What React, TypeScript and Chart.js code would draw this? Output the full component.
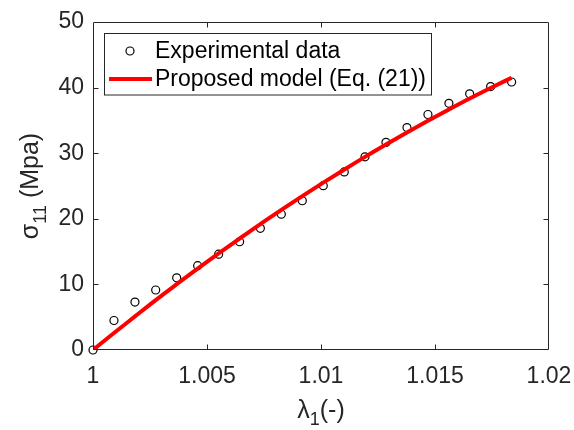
import React, { useEffect, useRef } from "react";
import { Chart, registerables } from "chart.js";

Chart.register(...registerables);

// ---- data ----
const lambdaValues = [
  1.0, 1.00092, 1.00184, 1.00275, 1.00367, 1.00459, 1.00551, 1.00643, 1.00734,
  1.00826, 1.00918, 1.0101, 1.01102, 1.01193, 1.01285, 1.01377, 1.01469,
  1.01561, 1.01652, 1.01744, 1.01836,
];
const experimentalStress = [
  0, 4.5, 7.3, 9.15, 11.0, 12.85, 14.6, 16.5, 18.55, 20.7, 22.75, 25.05, 27.15,
  29.45, 31.65, 33.9, 35.9, 37.6, 39.05, 40.15, 40.85,
];
const modelStress = [
  0, 2.59, 5.12, 7.61, 10.03, 12.41, 14.72, 16.99, 19.2, 21.35, 23.46, 25.51,
  27.5, 29.44, 31.33, 33.16, 34.94, 36.66, 38.33, 39.94, 41.51,
];
const xTicks = [1, 1.005, 1.01, 1.015, 1.02];
const yTicks = [0, 10, 20, 30, 40, 50];
const legendLabels = ["Experimental data", "Proposed model (Eq. (21))"];

const AXIS_COLOR = "#262626";
const FONT = "'Liberation Sans', Arial, Helvetica, sans-serif";

type Part = { text: string; size: number; dy: number };

function drawParts(ctx: CanvasRenderingContext2D, parts: Part[], cx: number, y: number) {
  let total = 0;
  const widths: number[] = [];
  for (const p of parts) {
    ctx.font = `${p.size}px ${FONT}`;
    const w = ctx.measureText(p.text).width;
    widths.push(w);
    total += w;
  }
  let x = cx - total / 2;
  ctx.textAlign = "left";
  ctx.textBaseline = "alphabetic";
  parts.forEach((p, i) => {
    ctx.font = `${p.size}px ${FONT}`;
    ctx.fillText(p.text, x, y + p.dy);
    x += widths[i];
  });
}

const decorPlugin = {
  id: "decor",
  afterDraw(chart: any) {
    const ctx: CanvasRenderingContext2D = chart.ctx;
    const area = chart.chartArea;
    const xs = chart.scales.x;
    const ys = chart.scales.y;
    const L = Math.round(area.left) + 0.5;
    const R = Math.round(area.right) - 0.5;
    const T = Math.round(area.top) + 0.5;
    const B = Math.round(area.bottom) - 0.5;
    ctx.save();
    ctx.strokeStyle = AXIS_COLOR;
    ctx.lineWidth = 1;
    ctx.beginPath();
    ctx.rect(L, T, R - L, B - T);
    const tl = 5;
    for (const v of xTicks) {
      const px = Math.round(xs.getPixelForValue(v)) + 0.5;
      if (px <= L + 1 || px >= R - 1) continue;
      ctx.moveTo(px, B);
      ctx.lineTo(px, B - tl);
      ctx.moveTo(px, T);
      ctx.lineTo(px, T + tl);
    }
    for (const v of yTicks) {
      const py = Math.round(ys.getPixelForValue(v)) + 0.5;
      if (py <= T + 1 || py >= B - 1) continue;
      ctx.moveTo(L, py);
      ctx.lineTo(L + tl, py);
      ctx.moveTo(R, py);
      ctx.lineTo(R - tl, py);
    }
    ctx.stroke();

    // axis titles
    ctx.fillStyle = AXIS_COLOR;
    drawParts(
      ctx,
      [
        { text: "λ", size: 25, dy: 0 },
        { text: "1", size: 18, dy: 7 },
        { text: "(-)", size: 25, dy: 0 },
      ],
      (area.left + area.right) / 2,
      418
    );
    ctx.save();
    ctx.translate(38, (area.top + area.bottom) / 2);
    ctx.rotate(-Math.PI / 2);
    drawParts(
      ctx,
      [
        { text: "σ", size: 25, dy: 0 },
        { text: "11", size: 18, dy: 8 },
        { text: " (Mpa)", size: 25, dy: 0 },
      ],
      0,
      0
    );
    ctx.restore();

    // legend
    const bx = 104.5, by = 33.5, bw = 327, bh = 61.5;
    ctx.fillStyle = "#ffffff";
    ctx.fillRect(bx, by, bw, bh);
    ctx.strokeStyle = AXIS_COLOR;
    ctx.lineWidth = 1;
    ctx.strokeRect(bx, by, bw, bh);

    ctx.strokeStyle = "#000000";
    ctx.lineWidth = 1.2;
    ctx.beginPath();
    ctx.arc(130, 51, 4, 0, Math.PI * 2);
    ctx.stroke();

    ctx.strokeStyle = "#ff0000";
    ctx.lineWidth = 4;
    ctx.beginPath();
    ctx.moveTo(109, 79);
    ctx.lineTo(152, 79);
    ctx.stroke();

    ctx.fillStyle = "#000000";
    ctx.font = `23px ${FONT}`;
    ctx.textAlign = "left";
    ctx.textBaseline = "alphabetic";
    ctx.fillText(legendLabels[0], 155, 58.3);
    ctx.fillText(legendLabels[1], 155, 86);
    ctx.restore();
  },
};

export default function App() {
  const ref = useRef<HTMLCanvasElement | null>(null);
  useEffect(() => {
    if (!ref.current) return;
    const chart = new Chart(ref.current, {
      type: "scatter",
      data: {
        datasets: [
          {
            type: "line",
            label: legendLabels[1],
            data: lambdaValues.map((x, i) => ({ x, y: modelStress[i] })),
            borderColor: "#ff0000",
            borderWidth: 4,
            pointRadius: 0,
            fill: false,
            cubicInterpolationMode: "monotone",
            order: 0,
          } as any,
          {
            type: "scatter",
            label: legendLabels[0],
            data: lambdaValues.map((x, i) => ({ x, y: experimentalStress[i] })),
            borderColor: "#000000",
            backgroundColor: "rgba(0,0,0,0)",
            borderWidth: 1.2,
            pointRadius: 4,
            clip: false,
            order: 1,
          } as any,
        ],
      },
      options: {
        animation: false,
        responsive: false,
        layout: { padding: { left: 0, right: 25, top: 22, bottom: 0 } },
        plugins: { legend: { display: false }, tooltip: { enabled: false } },
        scales: {
          x: {
            type: "linear",
            min: 1,
            max: 1.02,
            grid: { display: false, drawTicks: false },
            border: { display: false },
            afterBuildTicks: (s: any) => {
              s.ticks = xTicks.map((v) => ({ value: v }));
            },
            afterFit: (s: any) => {
              s.height = 80;
              s.paddingLeft = 0;
              s.paddingRight = 0;
            },
            ticks: {
              padding: 13,
              color: AXIS_COLOR,
              font: { family: FONT, size: 23 },
              maxRotation: 0,
              autoSkip: false,
              callback: (v: any) => String(Number(Number(v).toFixed(3))),
            },
          },
          y: {
            type: "linear",
            min: 0,
            max: 50,
            grid: { display: false, drawTicks: false },
            border: { display: false },
            afterBuildTicks: (s: any) => {
              s.ticks = yTicks.map((v) => ({ value: v }));
            },
            afterFit: (s: any) => {
              s.width = 93;
              s.paddingTop = 0;
              s.paddingBottom = 0;
            },
            ticks: {
              padding: 9,
              color: AXIS_COLOR,
              font: { family: FONT, size: 23 },
              callback: (v: any) => String(v),
            },
          },
        },
      },
      plugins: [decorPlugin],
    });
    return () => chart.destroy();
  }, []);
  return (
    <div style={{ position: "absolute", left: 0, top: 0, width: 574, height: 430, background: "#fff" }}>
      <canvas ref={ref} width={574} height={430} />
    </div>
  );
}
